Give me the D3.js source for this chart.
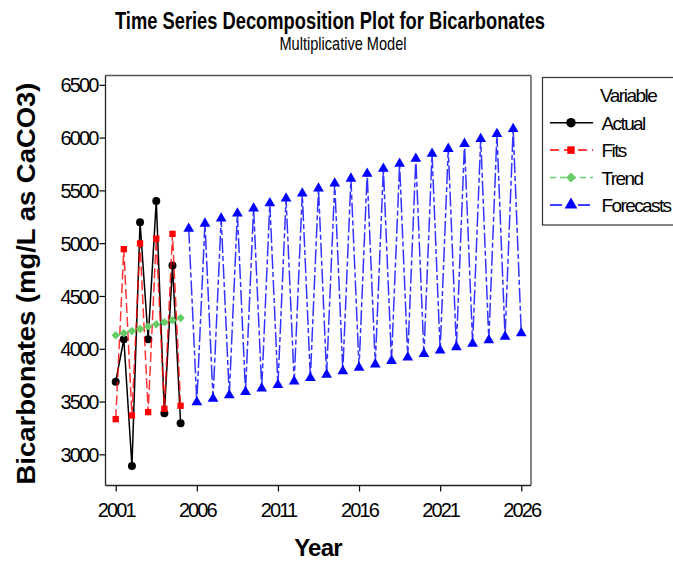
<!DOCTYPE html>
<html>
<head>
<meta charset="utf-8">
<script src="https://cdn.jsdelivr.net/npm/d3@7/dist/d3.min.js"></script>
<style>
  html, body { margin: 0; padding: 0; background: #fff; }
  svg { display: block; }
  text { font-family: "Liberation Sans", Arial, sans-serif; fill: #000; }
</style>
</head>
<body>
<svg id="chart" width="673" height="562"></svg>
<script>
// Semiannual observations, indexed 1..51 (index 1 = 2001)
const actualIndex = [1, 2, 3, 4, 5, 6, 7, 8, 9];
const actualValues = [3688, 4090, 2890, 5198, 4090, 5400, 3390, 4789, 3295];
const fitsValues = [3333, 4943, 3368, 4998, 3400, 5043, 3432, 5088, 3460];
const trendValues = [4128, 4146, 4168, 4188, 4212, 4232, 4251, 4270, 4292];

const forecastIndex = [10, 11, 12, 13, 14, 15, 16, 17, 18, 19, 20, 21, 22, 23, 24, 25, 26, 27, 28, 29, 30,
  31, 32, 33, 34, 35, 36, 37, 38, 39, 40, 41, 42, 43, 44, 45, 46, 47, 48, 49, 50, 51];
const forecastValues = [5138, 3494, 5186, 3527, 5234, 3560, 5282, 3592, 5330, 3625, 5378, 3657,
  5424, 3690, 5471, 3723, 5518, 3755, 5565, 3788, 5612, 3820, 5659, 3853, 5706, 3886,
  5753, 3918, 5800, 3951, 5847, 3984, 5894, 4016, 5941, 4049, 5988, 4081, 6035, 4114, 6082, 4147];

const xTickIndex = [1, 11, 21, 31, 41, 51];
const xTickLabels = ["2001", "2006", "2011", "2016", "2021", "2026"];
const yTickValues = [3000, 3500, 4000, 4500, 5000, 5500, 6000, 6500];

const seriesNames = ["Actual", "Fits", "Trend", "Forecasts"];

const svg = d3.select("#chart");

const plot = { left: 105.5, right: 531, top: 75.5, bottom: 485.5 };

const x = d3.scaleLinear().domain([-0.26, 52.2]).range([plot.left, plot.right]);
const y = d3.scaleLinear().domain([2705, 6588]).range([plot.bottom, plot.top]);

// Titles
svg.append("text")
  .attr("x", 330).attr("y", 28.5)
  .attr("text-anchor", "middle")
  .attr("font-size", 23).attr("font-weight", "bold")
  .attr("textLength", 430).attr("lengthAdjust", "spacingAndGlyphs")
  .text("Time Series Decomposition Plot for Bicarbonates");

svg.append("text")
  .attr("x", 343).attr("y", 50)
  .attr("text-anchor", "middle")
  .attr("font-size", 19)
  .attr("textLength", 127).attr("lengthAdjust", "spacingAndGlyphs")
  .text("Multiplicative Model");

// Axes
const xAxis = d3.axisBottom(x)
  .tickValues(xTickIndex)
  .tickFormat((d, i) => xTickLabels[i])
  .tickSize(6).tickPadding(11);

const yAxis = d3.axisLeft(y)
  .tickValues(yTickValues)
  .tickFormat(d3.format("d"))
  .tickSize(6).tickPadding(2);

const gx = svg.append("g")
  .attr("transform", `translate(0,${plot.bottom})`)
  .call(xAxis);
const gy = svg.append("g")
  .attr("transform", `translate(${plot.left},0)`)
  .call(yAxis);

[gx, gy].forEach(g => {
  g.select(".domain").remove();
  g.selectAll(".tick line").attr("stroke", "#000").attr("stroke-width", 1.2);
  g.selectAll(".tick text")
    .attr("font-family", "'Liberation Sans', Arial, sans-serif")
    .attr("font-size", 20)
    .attr("letter-spacing", -1.9)
    .attr("fill", "#000");
});
gy.selectAll(".tick text").attr("dy", "0.36em");

// Plot frame
svg.append("line").attr("x1", plot.left).attr("x2", plot.right).attr("y1", plot.top).attr("y2", plot.top)
  .attr("stroke", "#555").attr("stroke-width", 1.3);
svg.append("line").attr("x1", plot.right).attr("x2", plot.right).attr("y1", plot.top).attr("y2", plot.bottom)
  .attr("stroke", "#666").attr("stroke-width", 1.6);
svg.append("line").attr("x1", plot.left).attr("x2", plot.right).attr("y1", plot.bottom).attr("y2", plot.bottom)
  .attr("stroke", "#222").attr("stroke-width", 1.3);
svg.append("line").attr("x1", plot.left).attr("x2", plot.left).attr("y1", plot.top).attr("y2", plot.bottom)
  .attr("stroke", "#222").attr("stroke-width", 1.3);

// Axis titles
svg.append("text")
  .attr("transform", `translate(35,283.5) rotate(-90)`)
  .attr("text-anchor", "middle")
  .attr("font-size", 26).attr("font-weight", "bold")
  .attr("textLength", 402).attr("lengthAdjust", "spacingAndGlyphs")
  .text("Bicarbonates (mg/L as CaCO3)");

svg.append("text")
  .attr("x", 318).attr("y", 556)
  .attr("text-anchor", "middle")
  .attr("font-size", 24).attr("font-weight", "bold")
  .attr("letter-spacing", -0.8)
  .text("Year");

// Series styles (diamond = square turned 45 degrees)
const styles = {
  Actual:    { color: "#000000", dash: null,       symbol: d3.symbolCircle,   size: 50, rot: 0 },
  Fits:      { color: "#FF0000", dash: "10,4",     symbol: d3.symbolSquare,   size: 40, rot: 0 },
  Trend:     { color: "#66CC66", dash: "5,3",      symbol: d3.symbolSquare,   size: 36, rot: 45 },
  Forecasts: { color: "#0000FF", dash: "15,3,5,3", symbol: d3.symbolTriangle, size: 50, rot: 0 }
};

const series = [
  { name: "Actual",    idx: actualIndex,   vals: actualValues },
  { name: "Fits",      idx: actualIndex,   vals: fitsValues },
  { name: "Trend",     idx: actualIndex,   vals: trendValues },
  { name: "Forecasts", idx: forecastIndex, vals: forecastValues }
];

const line = d3.line().x(d => x(d[0])).y(d => y(d[1]));

const plotG = svg.append("g");

series.forEach(s => {
  const st = styles[s.name];
  const pts = s.idx.map((t, i) => [t, s.vals[i]]);
  const g = plotG.append("g");
  g.append("path")
    .datum(pts)
    .attr("d", line)
    .attr("fill", "none")
    .attr("stroke", st.color)
    .attr("stroke-opacity", s.name === "Actual" ? 1 : 0.8)
    .attr("stroke-width", 1.5)
    .attr("stroke-dasharray", st.dash);
  g.selectAll("path.mark")
    .data(pts)
    .join("path")
    .attr("class", "mark")
    .attr("d", d3.symbol().type(st.symbol).size(st.size))
    .attr("transform", d => `translate(${x(d[0])},${y(d[1])}) rotate(${st.rot})`)
    .attr("fill", st.color);
});

// Legend
const legend = svg.append("g");
legend.append("rect")
  .attr("x", 542.5).attr("y", 77.5)
  .attr("width", 140).attr("height", 147.5)
  .attr("fill", "#fff")
  .attr("stroke", "#333").attr("stroke-width", 1.2);

legend.append("text")
  .attr("x", 600).attr("y", 102)
  .attr("font-size", 19).attr("letter-spacing", -1.5)
  .text("Variable");

const legendDash = { Actual: null, Fits: "9,5", Trend: "6,4", Forecasts: "12,5,6,5" };

seriesNames.forEach((name, i) => {
  const st = styles[name];
  const cy = 122.7 + i * 27.4;
  legend.append("line")
    .attr("x1", 550).attr("x2", 593)
    .attr("y1", cy).attr("y2", cy)
    .attr("stroke", st.color)
    .attr("stroke-width", 1.5)
    .attr("stroke-dasharray", legendDash[name]);
  legend.append("path")
    .attr("d", d3.symbol().type(st.symbol).size(st.size * 1.4))
    .attr("transform", `translate(571,${cy}) rotate(${st.rot})`)
    .attr("fill", st.color);
  legend.append("text")
    .attr("x", 601.5).attr("y", cy + 7)
    .attr("font-size", 19).attr("letter-spacing", -1.6)
    .text(name);
});
</script>
</body>
</html>
